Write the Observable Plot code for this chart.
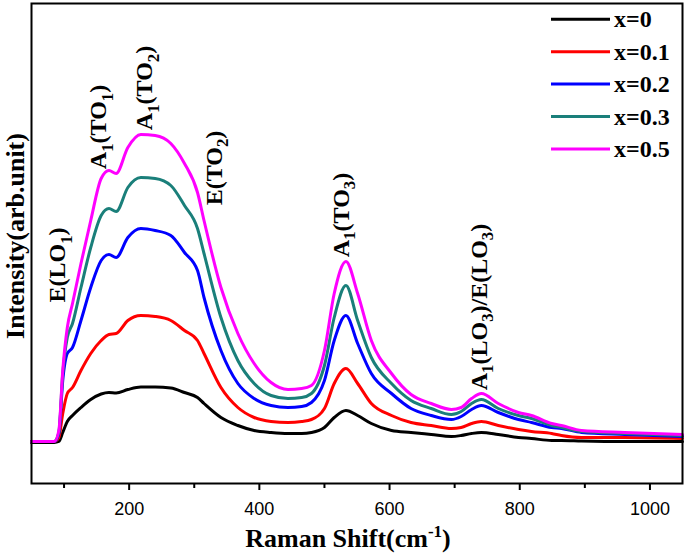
<!DOCTYPE html>
<html><head><meta charset="utf-8">
<script src="https://cdn.jsdelivr.net/npm/d3@7"></script>
<script src="https://cdn.jsdelivr.net/npm/@observablehq/plot@0.6"></script>
<style>body{margin:0;background:#fff}</style>
</head><body><div id="chart"></div>
<script>
// Raman shift grid (cm^-1)
const shift = [50, 85, 92, 98, 105, 113, 126, 141, 157, 169, 180, 198, 218, 240, 264, 285, 305, 315, 341, 367, 392, 418, 444, 465, 480, 500, 515, 533, 551, 572, 603, 633, 664, 695, 710, 726, 741, 767, 798, 818, 849, 864, 895, 961, 1050];
const seriesNames = ["x=0", "x=0.1", "x=0.2", "x=0.3", "x=0.5"];
const seriesColors = ["#000000", "#ff0000", "#0000ff", "#1a7f7a", "#ff00ff"];
// intensities (arb. unit)
const i00 = [0, 0, 1, 10, 21, 27, 35, 43, 48.5, 50, 49.5, 53, 55.5, 55.5, 54.5, 50, 45, 39, 25, 17, 12, 10, 9, 9, 10, 15, 25, 32, 27, 19, 12, 10, 8, 6, 7, 9, 10, 8, 5, 4, 2, 2, 1.5, 1, 1];
const i01 = [1, 1, 5, 29, 49, 55, 72, 89, 102, 108, 109, 122, 127, 126, 122, 112, 102, 89, 55, 35, 25, 21, 20, 21, 23, 34, 59, 74, 59, 39, 27, 20, 17, 14, 15, 19, 21, 17, 13, 11, 9, 7, 5, 5, 4];
const i02 = [1, 1, 9, 62, 89, 95, 122, 155, 182, 188, 185, 205, 214, 212, 207, 190, 172, 145, 92, 59, 44, 37, 35, 36, 40, 62, 102, 127, 99, 69, 49, 34, 27, 23, 26, 33, 37, 30, 23, 20, 15, 14, 10, 8, 6];
const i03 = [1, 1, 10, 69, 105, 119, 155, 195, 227, 234, 231, 255, 265, 264, 257, 237, 214, 189, 125, 82, 59, 47, 44, 45, 49, 77, 125, 157, 122, 85, 59, 42, 34, 28, 31, 39, 43, 34, 27, 24, 17, 15, 11, 9, 7];
const i05 = [1, 1, 12, 72, 115, 139, 179, 222, 264, 272, 269, 295, 308, 307, 299, 279, 250, 222, 155, 109, 79, 60, 53, 54, 57, 92, 149, 181, 149, 102, 69, 48, 39, 33, 35, 44, 49, 39, 30, 27, 19, 17, 12, 10, 8];
const seriesValues = [i00, i01, i02, i03, i05];

const xMajor = [200, 400, 600, 800, 1000];
const xMinor = [100, 300, 500, 700, 900];

// peak-assignment labels: [text, isSubscript] pieces, anchored at (shift, intensity)
const annoText = [
  [["E(LO",0],["1",1],[")",0]],
  [["A",0],["1",1],["(TO",0],["1",1],[")",0]],
  [["A",0],["1",1],["(TO",0],["2",1],[")",0]],
  [["E(TO",0],["2",1],[")",0]],
  [["A",0],["1",1],["(TO",0],["3",1],[")",0]],
  [["A",0],["1",1],["(LO",0],["3",1],[")/E(LO",0],["3",1],[")",0]]
];
const annoShift = [102, 165, 236, 343, 538, 750];
const annoIntensity = [177, 315, 354, 274, 227, 135];

const rows = [];
seriesNames.forEach((name, j) => shift.forEach((s, i) => rows.push({shift: s, intensity: seriesValues[j][i], series: name})));

const serif = "'Liberation Serif', 'Times New Roman', serif";

const plot = Plot.plot({
  width: 685, height: 554,
  marginLeft: 31, marginRight: 3, marginTop: 3, marginBottom: 71,
  x: {domain: [50, 1050]},
  y: {domain: [-41, 439], axis: null},
  color: {domain: seriesNames, range: seriesColors},
  style: {background: "#fff", fontFamily: "'Liberation Sans', Arial, sans-serif", color: "#000"},
  marks: [
    Plot.line(rows, {x: "shift", y: "intensity", stroke: "series", strokeWidth: 3, curve: "monotone-x"}),
    Plot.frame({stroke: "#000", strokeWidth: 2}),
    Plot.axisX({ticks: xMajor, tickSize: 7, tickPadding: 12, strokeWidth: 2, fontSize: 18, label: null, tickFormat: d => String(d)}),
    Plot.axisX({ticks: xMinor, tickSize: 5, strokeWidth: 2, label: null, tickFormat: () => ""})
  ]
});

document.getElementById("chart").appendChild(plot);
const svg = d3.select(plot);
const sx = plot.scale("x"), sy = plot.scale("y");

function richText(g, pieces, size) {
  const t = g.append("text").attr("font-family", serif).attr("font-weight", "bold").attr("font-size", size).attr("fill", "#000");
  let down = false;
  pieces.forEach(([s, sub]) => {
    const ts = t.append("tspan").text(s);
    if (sub) { ts.attr("font-size", size * 0.7).attr("dy", down ? 0 : size * 0.28); down = true; }
    else { ts.attr("dy", down ? -size * 0.28 : 0); down = false; }
  });
  return t;
}

// annotations
annoText.forEach((pieces, k) => {
  const px = sx.apply(annoShift[k]), py = sy.apply(annoIntensity[k]);
  const g = svg.append("g").attr("transform", `translate(${px},${py}) rotate(-90)`);
  richText(g, pieces, 24).attr("text-anchor", "middle");
});

// axis titles
{
  const g = svg.append("g").attr("transform", "translate(348,547)");
  const t = g.append("text").attr("font-family", serif).attr("font-weight", "bold").attr("font-size", 26).attr("text-anchor", "middle");
  t.append("tspan").text("Raman Shift(cm");
  t.append("tspan").text("-1").attr("font-size", 17).attr("dy", -10);
  t.append("tspan").text(")").attr("dy", 10);
}
{
  const g = svg.append("g").attr("transform", "translate(24,236) rotate(-90)");
  g.append("text").attr("font-family", serif).attr("font-weight", "bold").attr("font-size", 26).attr("text-anchor", "middle").text("Intensity(arb.unit)");
}

// legend
const legY0 = 19.3, legStep = 32.4;
seriesNames.forEach((name, j) => {
  const y = legY0 + j * legStep;
  svg.append("line").attr("x1", 551).attr("x2", 610).attr("y1", y).attr("y2", y).attr("stroke", seriesColors[j]).attr("stroke-width", 3);
  svg.append("text").attr("x", 614).attr("y", y + 8).attr("text-anchor", "start").attr("font-family", serif).attr("font-weight", "bold").attr("font-size", 24).text(name);
});
</script>
</body></html>
